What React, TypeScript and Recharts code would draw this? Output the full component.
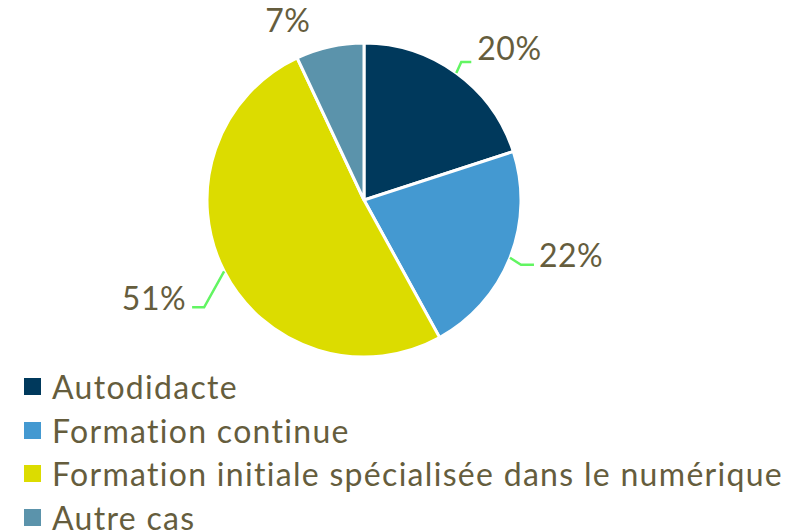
import React from 'react';
import { PieChart, Pie, Cell, Legend } from 'recharts';

const categories = [
  'Autodidacte',
  'Formation continue',
  'Formation initiale spécialisée dans le numérique',
  'Autre cas',
];
const shares = [20, 22, 51, 7];
const colors = ['#00395C', '#4499D1', '#DCDC00', '#5B93AB'];

const data = categories.map((name, i) => ({ name, value: shares[i], fill: colors[i] }));

const TEXT = '#655D3D';
const LINE = '#62F562';
const FONT = 'Lato, "Open Sans", sans-serif';
const RAD = Math.PI / 180;

// leader-line styling per slice (offsets relative to the arc point the library gives)
const leaderStyle = [
  { ex: 5, ey: -11, run: 10, gap: 6, dy: -14, line: true },
  { ex: 11, ey: 7, run: 13, gap: 5, dy: -10, line: true },
  { ex: -20, ey: 36, run: -12, gap: 6, dy: -10, line: true },
  { ex: -42, ey: -27, run: 0, gap: 0, dy: 0, line: false },
];

const renderLabel = (props: any) => {
  const { cx, cy, midAngle, outerRadius, index, value } = props;
  const s = leaderStyle[index];
  const px = cx + outerRadius * Math.cos(-midAngle * RAD);
  const py = cy + outerRadius * Math.sin(-midAngle * RAD);
  const label = `${value}%`;
  if (!s.line) {
    return (
      <text x={px + s.ex} y={py + s.ey} textAnchor="middle" dominantBaseline="central"
        fill={TEXT} fontSize={32} fontFamily={FONT} letterSpacing={0.5}>{label}</text>
    );
  }
  const ex = px + s.ex;
  const ey = py + s.ey;
  const hx = ex + s.run;
  const right = s.run >= 0;
  return (
    <g>
      <polyline points={`${px},${py} ${ex},${ey} ${hx},${ey}`} fill="none" stroke={LINE} strokeWidth={2.5} />
      <text x={right ? hx + s.gap : hx - s.gap} y={ey + s.dy} textAnchor={right ? 'start' : 'end'}
        dominantBaseline="central" fill={TEXT} fontSize={32} fontFamily={FONT} letterSpacing={0.5}>{label}</text>
    </g>
  );
};

const renderLegend = (props: any) => {
  const { payload } = props;
  return (
    <div style={{ fontFamily: FONT }}>
      {(payload || []).map((e: any, i: number) => (
        <div key={i} style={{ display: 'flex', alignItems: 'center', height: 43.5 }}>
          <span style={{ display: 'inline-block', width: 17, height: 17, background: colors[i], marginLeft: 24, marginRight: 11 }} />
          <span style={{ fontSize: 32, color: TEXT, lineHeight: '43.5px', letterSpacing: '1.3px', whiteSpace: 'nowrap' }}>{categories[i]}</span>
        </div>
      ))}
    </div>
  );
};

export default function App() {
  return (
    <div style={{ position: 'absolute', left: 0, top: 0, width: 805, height: 531, background: '#fff' }}>
      <PieChart width={805} height={531} margin={{ top: 0, right: 0, bottom: 0, left: 0 }}>
        <Pie
          data={data}
          dataKey="value"
          nameKey="name"
          cx={364}
          cy={200}
          outerRadius={157}
          startAngle={90}
          endAngle={-270}
          stroke="#FFFFFF"
          strokeWidth={3}
          label={renderLabel}
          labelLine={false}
          isAnimationActive={false}
        >
          {data.map((d, i) => (
            <Cell key={i} fill={colors[i]} />
          ))}
        </Pie>
        <Legend
          layout="horizontal"
          verticalAlign="bottom"
          align="left"
          content={renderLegend}
          wrapperStyle={{ left: 0, top: 365, width: 805 }}
        />
      </PieChart>
    </div>
  );
}
